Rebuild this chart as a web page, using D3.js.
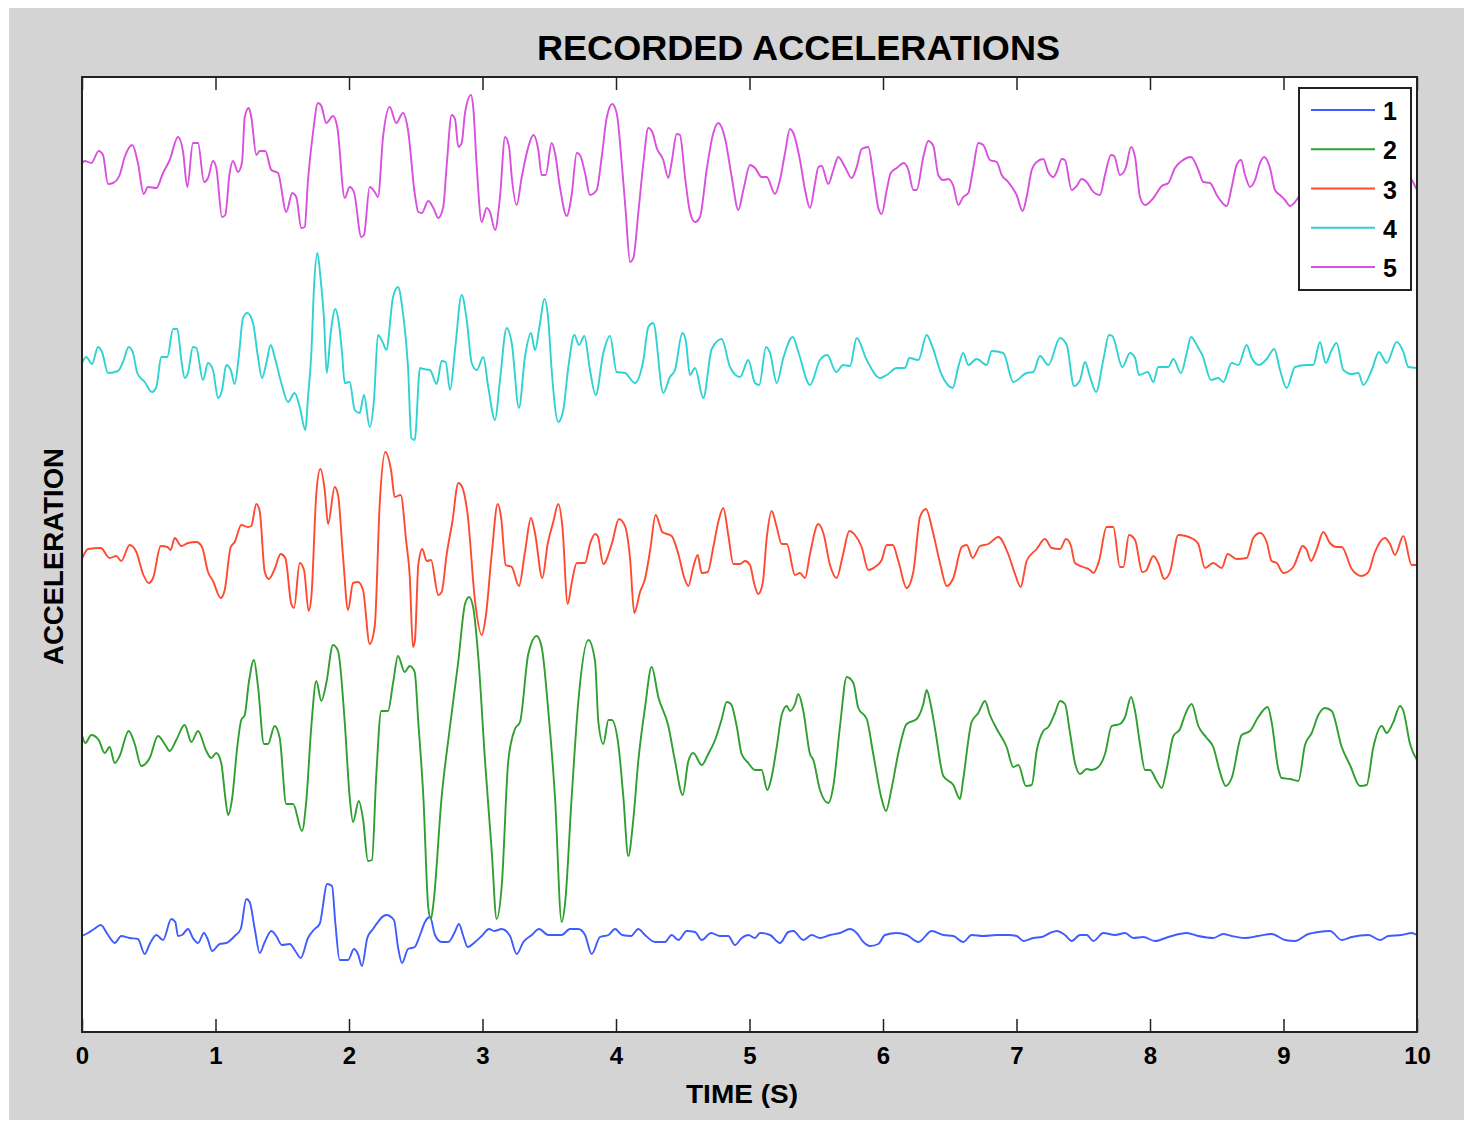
<!DOCTYPE html>
<html><head><meta charset="utf-8">
<script src="https://cdn.jsdelivr.net/npm/d3@7"></script>
<style>html,body{margin:0;padding:0;background:#fff;} svg{display:block;}</style>
</head><body>
<script>
// ---------------- DATA ----------------
const chartTitle = "RECORDED ACCELERATIONS";
const xLabel = "TIME (S)";
const yLabel = "ACCELERATION";
const seriesNames = ["1", "2", "3", "4", "5"];
const xTicks = [0, 1, 2, 3, 4, 5, 6, 7, 8, 9, 10];
const xTickLabels = ["0", "1", "2", "3", "4", "5", "6", "7", "8", "9", "10"];
// vertical offset added to each record so that they are stacked
const traceOffsets = [9.5, 28.6, 47.7, 66.8, 85.9];

// [time (s), acceleration] for each record
const accel1 = [[0,0.1],[0.045,0.4],[0.09,0.8],[0.14,1.2],[0.195,0.2],[0.245,-0.6],[0.294,0.1],[0.357,-0.1],[0.419,-0.2],[0.47,-1.7],[0.507,-0.7],[0.557,0.2],[0.607,-0.3],[0.669,1.8],[0.699,1.5],[0.719,0.1],[0.749,0.2],[0.794,0.8],[0.831,-0.1],[0.869,-0.6],[0.914,0.4],[0.944,-0.3],[0.974,-1.4],[1.031,-0.7],[1.081,-0.6],[1.144,0.1],[1.189,0.8],[1.231,3.8],[1.256,3.5],[1.294,0.8],[1.331,-1.6],[1.369,-0.5],[1.418,0.6],[1.455,0.1],[1.498,-0.8],[1.556,-0.7],[1.598,-1.4],[1.638,-2.1],[1.693,-0.1],[1.743,0.8],[1.78,1.3],[1.837,5.3],[1.873,5.1],[1.897,1.5],[1.93,-2.3],[1.993,-2.3],[2.037,-1.2],[2.067,-1.7],[2.097,-2.9],[2.137,-0.1],[2.18,0.8],[2.279,2.2],[2.337,1.7],[2.367,-1.0],[2.397,-2.6],[2.442,-1.2],[2.492,-1.0],[2.532,0.2],[2.569,1.5],[2.607,2.0],[2.644,0.2],[2.694,-0.5],[2.744,-0.5],[2.789,0.4],[2.824,1.3],[2.856,0.1],[2.889,-1.0],[2.944,-0.5],[2.994,0.1],[3.049,0.8],[3.088,0.6],[3.144,0.8],[3.206,0.1],[3.256,-1.7],[3.306,-0.5],[3.369,0.2],[3.423,0.8],[3.493,0.2],[3.593,0.2],[3.655,0.8],[3.718,0.8],[3.768,0.2],[3.818,-1.7],[3.88,0.0],[3.943,0.2],[3.993,0.8],[4.047,0.2],[4.112,0.1],[4.167,0.8],[4.217,0.2],[4.292,-0.5],[4.367,-0.5],[4.417,0.2],[4.467,-0.3],[4.53,0.6],[4.592,0.5],[4.642,-0.3],[4.712,0.4],[4.779,0.1],[4.841,0.1],[4.891,-0.8],[4.942,-0.1],[4.991,0.2],[5.041,-0.1],[5.079,0.4],[5.154,0.2],[5.228,-0.6],[5.291,0.5],[5.328,0.6],[5.403,-0.3],[5.466,0.2],[5.528,-0.1],[5.603,0.2],[5.678,0.4],[5.753,0.8],[5.803,0.4],[5.853,-0.5],[5.903,-0.9],[5.965,-0.7],[6.015,0.2],[6.103,0.4],[6.177,0.2],[6.265,-0.5],[6.365,0.6],[6.452,0.2],[6.527,0.1],[6.601,-0.5],[6.664,0.2],[6.751,0.1],[6.852,0.2],[6.938,0.2],[7.001,0.1],[7.051,-0.4],[7.126,-0.1],[7.189,0.0],[7.251,0.4],[7.301,0.6],[7.363,0.2],[7.413,-0.4],[7.476,0.2],[7.526,0.2],[7.576,-0.4],[7.65,0.4],[7.738,0.2],[7.813,0.4],[7.875,-0.1],[7.95,0.0],[8.037,-0.4],[8.137,0.0],[8.275,0.4],[8.362,0.1],[8.474,-0.1],[8.549,0.3],[8.612,0.1],[8.712,-0.1],[8.811,0.1],[8.911,0.3],[9.011,-0.3],[9.086,-0.4],[9.186,0.3],[9.261,0.5],[9.348,0.6],[9.436,-0.3],[9.511,0.0],[9.636,0.2],[9.723,-0.3],[9.785,0.1],[9.885,0.2],[9.96,0.4],[10,0.2]];

const accel2 = [[0,1.1],[0.025,0.3],[0.07,1.1],[0.125,0.6],[0.17,-0.7],[0.207,-0.1],[0.245,-1.7],[0.282,-1.0],[0.35,1.5],[0.395,0.2],[0.444,-2.0],[0.507,-1.2],[0.569,1.0],[0.624,0.1],[0.657,-0.5],[0.706,0.6],[0.769,2.1],[0.819,0.4],[0.869,1.5],[0.931,-0.5],[0.968,-1.2],[1.006,-0.7],[1.043,-1.7],[1.073,-5.1],[1.094,-6.9],[1.124,-5.3],[1.163,-0.1],[1.193,2.6],[1.219,3.1],[1.249,6.3],[1.288,8.6],[1.318,6.0],[1.363,0.2],[1.393,0.2],[1.443,2.0],[1.481,0.8],[1.53,-5.8],[1.581,-5.8],[1.648,-8.5],[1.68,-5.5],[1.718,2.0],[1.755,6.5],[1.793,4.5],[1.83,6.3],[1.88,10.1],[1.918,9.5],[1.968,2.4],[2.005,-5.1],[2.03,-7.6],[2.073,-5.5],[2.105,-7.3],[2.142,-11.5],[2.172,-11.4],[2.204,-3.0],[2.242,3.5],[2.292,3.5],[2.33,6.3],[2.367,9.0],[2.417,7.4],[2.455,8.0],[2.492,7.4],[2.519,2.4],[2.557,-5.1],[2.594,-16.2],[2.614,-17.3],[2.632,-15.8],[2.694,-5.1],[2.757,2.0],[2.819,8.5],[2.869,14.2],[2.899,14.9],[2.931,13.8],[2.969,8.8],[3.019,-1.5],[3.069,-10.5],[3.106,-17.3],[3.144,-14.0],[3.193,-1.5],[3.243,1.7],[3.281,2.4],[3.343,9.2],[3.406,11.0],[3.443,9.9],[3.493,3.5],[3.543,-5.1],[3.593,-17.6],[3.618,-15.8],[3.668,-5.1],[3.718,4.5],[3.793,10.6],[3.843,8.5],[3.868,2.4],[3.905,0.2],[3.943,2.6],[3.968,2.6],[4.017,0.2],[4.055,-5.1],[4.092,-11.0],[4.13,-7.3],[4.167,-1.5],[4.217,3.8],[4.267,7.9],[4.317,4.9],[4.392,2.0],[4.442,-1.5],[4.5,-4.9],[4.542,-1.5],[4.579,-0.7],[4.642,-1.9],[4.691,-0.8],[4.742,0.6],[4.792,2.7],[4.829,4.4],[4.861,4.2],[4.904,2.0],[4.941,-0.8],[4.991,-1.7],[5.041,-2.4],[5.091,-2.4],[5.133,-4.4],[5.159,-3.5],[5.204,-0.1],[5.241,3.1],[5.279,4.0],[5.303,3.5],[5.341,4.2],[5.366,5.2],[5.403,3.5],[5.453,-0.8],[5.478,-1.4],[5.528,-4.4],[5.59,-5.7],[5.628,-4.0],[5.678,2.0],[5.728,6.9],[5.778,6.3],[5.815,3.8],[5.878,2.7],[5.927,-0.8],[5.99,-5.3],[6.022,-6.5],[6.065,-4.2],[6.115,-0.7],[6.177,2.2],[6.252,2.7],[6.302,4.2],[6.327,5.6],[6.352,4.5],[6.39,1.7],[6.452,-3.0],[6.527,-3.9],[6.577,-5.3],[6.601,-3.3],[6.664,2.4],[6.714,3.3],[6.764,4.5],[6.801,3.1],[6.852,1.7],[6.926,-0.1],[6.976,-2.1],[7.014,-1.9],[7.071,-4.0],[7.114,-3.9],[7.151,-0.5],[7.201,1.5],[7.238,1.9],[7.288,3.3],[7.326,4.5],[7.363,4.2],[7.401,1.3],[7.438,-1.7],[7.476,-2.8],[7.526,-2.3],[7.563,-2.4],[7.613,-2.1],[7.663,-0.8],[7.713,2.0],[7.775,2.2],[7.813,2.9],[7.858,4.9],[7.888,3.5],[7.925,0.2],[7.963,-2.4],[8.0,-2.4],[8.05,-3.5],[8.088,-4.2],[8.125,-2.3],[8.175,1.0],[8.225,1.7],[8.262,3.1],[8.312,4.2],[8.362,2.0],[8.425,0.8],[8.474,-0.1],[8.524,-2.6],[8.567,-4.0],[8.612,-3.2],[8.687,1.1],[8.749,1.5],[8.811,2.9],[8.882,3.9],[8.911,2.4],[8.961,-2.3],[8.986,-3.2],[9.049,-3.3],[9.111,-3.5],[9.161,0.1],[9.211,1.3],[9.261,3.1],[9.311,3.8],[9.361,3.5],[9.436,-0.1],[9.498,-1.9],[9.573,-4.0],[9.623,-3.9],[9.673,-0.1],[9.736,2.0],[9.773,1.3],[9.823,2.4],[9.873,4.0],[9.898,3.5],[9.948,0.2],[10,-1.4]];

const accel3 = [[0,-0.4],[0.045,0.6],[0.14,0.7],[0.207,-0.3],[0.257,-0.1],[0.294,-0.6],[0.357,1.0],[0.407,0.3],[0.457,-1.9],[0.5,-2.8],[0.532,-2.3],[0.59,0.9],[0.639,0.8],[0.664,0.5],[0.694,1.7],[0.744,0.9],[0.794,1.2],[0.856,1.3],[0.899,0.8],[0.944,-1.7],[0.981,-2.6],[1.039,-4.3],[1.069,-3.5],[1.114,0.8],[1.144,1.3],[1.193,3.0],[1.243,2.8],[1.268,2.9],[1.306,5.1],[1.331,4.4],[1.369,-1.7],[1.399,-2.4],[1.443,-1.4],[1.488,0.1],[1.523,-0.3],[1.568,-4.9],[1.588,-5.3],[1.631,-0.8],[1.663,-1.5],[1.698,-5.6],[1.718,-4.2],[1.755,6.1],[1.785,8.6],[1.818,6.5],[1.843,3.1],[1.893,6.8],[1.918,6.0],[1.955,-0.1],[1.993,-5.5],[2.03,-2.8],[2.067,-2.7],[2.105,-3.5],[2.155,-8.9],[2.193,-7.1],[2.23,5.1],[2.272,10.3],[2.317,8.3],[2.342,5.8],[2.387,6.0],[2.429,1.3],[2.455,-2.1],[2.479,-9.2],[2.494,-8.5],[2.519,-1.0],[2.549,0.6],[2.582,-0.6],[2.614,-0.5],[2.669,-4.0],[2.694,-3.7],[2.732,0.1],[2.774,3.3],[2.819,7.2],[2.844,6.9],[2.889,4.0],[2.944,-4.6],[2.994,-8.0],[3.024,-6.2],[3.069,0.1],[3.114,5.1],[3.139,3.8],[3.174,-1.0],[3.219,-1.2],[3.273,-3.1],[3.318,0.3],[3.363,3.7],[3.393,2.2],[3.448,-2.3],[3.488,1.1],[3.53,3.3],[3.568,5.1],[3.598,2.9],[3.638,-4.9],[3.668,-2.8],[3.706,-0.8],[3.768,-0.8],[3.805,1.1],[3.843,2.1],[3.863,1.9],[3.905,-0.9],[3.968,1.1],[4.022,3.6],[4.067,2.9],[4.105,-0.3],[4.137,-5.8],[4.18,-3.7],[4.217,-2.4],[4.255,0.4],[4.297,4.0],[4.347,2.3],[4.417,1.9],[4.467,0.1],[4.512,-2.3],[4.542,-3.1],[4.579,-1.2],[4.612,0.0],[4.642,-1.8],[4.687,-1.7],[4.729,0.8],[4.766,3.3],[4.804,4.7],[4.841,2.0],[4.879,-0.9],[4.929,-0.9],[4.966,-0.6],[5.004,-1.0],[5.034,-2.8],[5.066,-3.9],[5.099,-2.8],[5.129,1.7],[5.166,4.4],[5.204,2.8],[5.241,1.1],[5.279,1.1],[5.341,-2.0],[5.378,-1.8],[5.416,-2.3],[5.453,0.1],[5.515,3.1],[5.553,2.2],[5.603,-1.0],[5.653,-2.3],[5.698,-0.1],[5.748,2.4],[5.79,2.0],[5.84,0.8],[5.89,-1.5],[5.94,-1.2],[5.99,-0.5],[6.028,1.0],[6.073,1.0],[6.115,-0.6],[6.177,-3.3],[6.227,-1.7],[6.277,3.8],[6.322,4.6],[6.372,2.4],[6.427,-0.8],[6.477,-3.1],[6.527,-2.3],[6.59,0.8],[6.627,1.0],[6.672,-0.3],[6.727,0.9],[6.789,1.1],[6.864,1.8],[6.938,0.1],[6.989,-1.9],[7.031,-3.2],[7.076,-0.6],[7.151,0.6],[7.213,1.6],[7.264,0.7],[7.326,0.6],[7.371,1.6],[7.406,1.0],[7.438,-0.8],[7.5,-1.2],[7.551,-1.5],[7.576,-1.8],[7.618,-0.6],[7.675,2.8],[7.725,2.8],[7.775,-1.2],[7.8,-1.2],[7.843,2.0],[7.888,1.5],[7.942,-1.7],[7.968,-1.6],[8.025,-0.1],[8.062,-0.8],[8.107,-2.4],[8.15,-1.7],[8.212,2.0],[8.324,1.6],[8.362,1.1],[8.412,-1.3],[8.474,-0.8],[8.537,-1.3],[8.582,0.1],[8.649,-0.4],[8.724,-0.3],[8.774,1.7],[8.824,2.2],[8.874,1.3],[8.911,-0.6],[8.949,-0.8],[8.999,-1.8],[9.073,-1.2],[9.111,0.0],[9.141,0.9],[9.174,0.5],[9.206,-0.6],[9.249,0.6],[9.298,2.3],[9.348,1.2],[9.398,0.8],[9.436,0.8],[9.511,-1.4],[9.586,-2.1],[9.636,-1.7],[9.685,0.3],[9.76,1.7],[9.798,1.1],[9.835,0.0],[9.898,1.9],[9.96,-1.0],[10,-1.0]];

const accel4 = [[0,0.1],[0.032,0.7],[0.075,0.0],[0.12,1.7],[0.15,1.2],[0.195,-0.9],[0.27,-0.7],[0.307,0.2],[0.35,1.7],[0.382,1.1],[0.414,-0.9],[0.47,-1.8],[0.524,-2.8],[0.557,-2.3],[0.594,0.7],[0.639,0.7],[0.682,3.5],[0.714,3.5],[0.744,0.4],[0.769,-1.4],[0.794,-0.9],[0.831,1.7],[0.856,1.6],[0.906,-1.6],[0.944,0.1],[0.981,-0.6],[1.019,-3.4],[1.049,-2.6],[1.081,-0.1],[1.114,-0.6],[1.144,-2.0],[1.174,0.7],[1.206,4.6],[1.238,5.1],[1.281,4.1],[1.318,0.7],[1.348,-1.4],[1.381,0.1],[1.413,1.9],[1.443,0.7],[1.493,-1.9],[1.543,-3.8],[1.593,-2.9],[1.631,-4.3],[1.673,-6.6],[1.693,-3.3],[1.718,1.1],[1.738,7.7],[1.763,11.1],[1.788,8.4],[1.813,4.4],[1.833,-0.9],[1.863,3.1],[1.897,5.5],[1.923,4.2],[1.948,1.1],[1.968,-1.9],[2.005,-1.8],[2.043,-4.6],[2.08,-4.9],[2.112,-3.1],[2.155,-6.3],[2.187,-3.6],[2.217,2.9],[2.255,2.1],[2.279,1.4],[2.33,6.7],[2.367,7.7],[2.404,5.1],[2.442,-0.3],[2.467,-7.4],[2.492,-7.6],[2.532,-0.4],[2.557,-0.5],[2.607,-0.6],[2.657,-2.0],[2.694,0.3],[2.724,0.2],[2.757,-2.6],[2.794,1.4],[2.844,6.9],[2.882,4.4],[2.919,0.1],[2.957,-0.6],[3.006,0.7],[3.043,-2.3],[3.094,-5.6],[3.131,-1.6],[3.181,3.6],[3.219,2.1],[3.273,-4.4],[3.318,0.7],[3.363,3.1],[3.393,1.4],[3.431,4.1],[3.463,6.5],[3.493,4.4],[3.518,-0.6],[3.568,-5.8],[3.605,-4.6],[3.643,-0.3],[3.688,2.9],[3.723,1.9],[3.763,2.8],[3.805,-0.6],[3.848,-3.1],[3.905,1.1],[3.955,2.8],[4.005,-0.8],[4.067,-0.9],[4.142,-1.9],[4.205,0.4],[4.242,3.7],[4.279,4.1],[4.354,-2.9],[4.404,-1.3],[4.442,-0.6],[4.497,3.1],[4.522,2.4],[4.554,-1.1],[4.592,-0.4],[4.654,-3.4],[4.717,1.5],[4.792,2.5],[4.854,-0.3],[4.929,-1.3],[4.991,0.4],[5.041,-1.9],[5.073,-2.1],[5.124,1.7],[5.154,1.1],[5.204,-1.9],[5.253,0.6],[5.324,2.7],[5.366,1.2],[5.453,-2.1],[5.528,0.4],[5.583,0.9],[5.648,-0.8],[5.703,-0.1],[5.753,-0.2],[5.803,2.6],[5.878,0.4],[5.978,-1.4],[6.028,-1.1],[6.103,-0.4],[6.165,-0.4],[6.197,0.6],[6.265,0.4],[6.327,2.9],[6.365,1.9],[6.44,-1.1],[6.522,-2.4],[6.564,-0.3],[6.601,1.1],[6.639,-0.1],[6.702,0.5],[6.777,-0.1],[6.814,1.3],[6.901,1.1],[6.976,-1.8],[7.076,-0.9],[7.126,-0.8],[7.176,0.8],[7.238,-0.1],[7.326,2.6],[7.376,1.9],[7.431,-2.2],[7.476,-1.6],[7.513,0.2],[7.551,-1.3],[7.596,-2.8],[7.65,0.4],[7.693,2.9],[7.718,2.8],[7.793,-0.3],[7.85,1.1],[7.888,0.6],[7.918,-1.1],[7.983,-0.8],[8.025,-1.8],[8.062,-0.3],[8.137,-0.3],[8.175,0.5],[8.232,-0.9],[8.275,1.1],[8.307,2.7],[8.362,1.6],[8.392,0.9],[8.457,-1.6],[8.512,-1.4],[8.549,-1.8],[8.612,0.1],[8.662,-0.1],[8.724,1.9],[8.762,0.6],[8.816,-0.1],[8.874,0.5],[8.931,1.5],[8.974,-0.6],[9.024,-2.4],[9.086,-0.3],[9.174,-0.1],[9.223,-0.1],[9.273,2.2],[9.316,0.1],[9.361,1.4],[9.398,2.1],[9.448,-0.6],[9.511,-1.0],[9.561,-0.9],[9.598,-2.1],[9.661,-0.6],[9.715,1.2],[9.773,0.1],[9.848,2.2],[9.898,1.2],[9.935,-0.3],[10,-0.4]];

const accel5 = [[0,1.0],[0.02,1.2],[0.07,1.0],[0.125,2.2],[0.157,1.8],[0.195,-1.1],[0.232,-1.0],[0.282,-0.2],[0.32,1.6],[0.377,2.8],[0.419,1.0],[0.462,-2.1],[0.494,-1.4],[0.557,-1.5],[0.607,0.0],[0.657,1.3],[0.719,3.6],[0.757,2.1],[0.789,-1.4],[0.831,3.0],[0.869,3.0],[0.914,-0.9],[0.944,-0.5],[0.981,1.2],[1.006,0.5],[1.049,-4.4],[1.073,-4.2],[1.106,0.0],[1.131,1.2],[1.169,0.1],[1.199,1.1],[1.219,5.6],[1.249,6.5],[1.268,5.6],[1.306,1.8],[1.331,2.2],[1.373,2.2],[1.418,0.3],[1.468,0.0],[1.53,-3.9],[1.575,-2.0],[1.605,-2.4],[1.643,-5.5],[1.668,-5.4],[1.693,-0.7],[1.73,4.0],[1.768,7.0],[1.793,6.7],[1.83,5.0],[1.88,5.7],[1.912,4.6],[1.968,-2.5],[2.005,-1.4],[2.037,-1.9],[2.092,-6.4],[2.112,-6.2],[2.155,-1.4],[2.193,-1.9],[2.217,-2.4],[2.255,3.6],[2.305,6.6],[2.354,5.0],[2.404,6.0],[2.442,4.3],[2.492,-2.0],[2.519,-3.9],[2.545,-4.0],[2.594,-2.8],[2.632,-3.5],[2.669,-4.5],[2.706,-3.4],[2.732,0.8],[2.769,5.8],[2.794,5.4],[2.819,2.6],[2.844,3.0],[2.869,6.0],[2.914,7.8],[2.931,6.5],[2.957,0.6],[2.994,-4.9],[3.031,-3.5],[3.056,-3.9],[3.094,-5.7],[3.131,-2.4],[3.169,3.6],[3.199,2.6],[3.219,-0.4],[3.256,-3.2],[3.294,-0.4],[3.343,2.6],[3.381,3.8],[3.418,2.3],[3.443,-0.2],[3.473,-0.2],[3.518,3.0],[3.543,2.0],[3.58,-1.4],[3.631,-4.3],[3.668,-2.2],[3.706,2.0],[3.73,1.8],[3.768,0.0],[3.805,-2.2],[3.855,-1.7],[3.893,1.6],[3.93,5.5],[3.972,6.9],[4.005,6.0],[4.043,1.0],[4.073,-3.9],[4.105,-8.9],[4.13,-8.5],[4.167,-4.0],[4.205,1.0],[4.242,4.5],[4.272,4.1],[4.305,2.5],[4.354,1.3],[4.392,-0.5],[4.417,1.1],[4.455,3.9],[4.479,3.8],[4.517,-0.4],[4.554,-3.9],[4.592,-4.9],[4.629,-4.4],[4.679,0.3],[4.729,4.0],[4.766,5.0],[4.816,3.5],[4.867,-0.4],[4.916,-3.7],[4.954,-1.7],[5.004,0.8],[5.041,0.5],[5.091,-0.4],[5.129,-0.4],[5.191,-2.1],[5.228,-0.7],[5.266,2.0],[5.303,4.4],[5.328,4.0],[5.378,1.3],[5.416,-1.7],[5.453,-3.5],[5.491,-1.0],[5.516,0.6],[5.541,0.7],[5.59,-1.1],[5.628,0.3],[5.665,1.6],[5.715,0.6],[5.766,-0.5],[5.803,0.6],[5.84,2.4],[5.89,2.6],[5.927,-0.2],[5.965,-3.5],[5.99,-4.1],[6.028,-1.7],[6.058,0.0],[6.103,0.5],[6.157,1.0],[6.19,0.3],[6.227,-1.7],[6.252,-1.7],[6.302,1.6],[6.339,3.2],[6.377,2.7],[6.414,-0.2],[6.452,-0.7],[6.489,-0.6],[6.527,-1.3],[6.564,-3.2],[6.601,-2.4],[6.639,-2.0],[6.676,0.5],[6.714,3.0],[6.751,2.8],[6.801,1.3],[6.852,1.1],[6.889,-0.2],[6.938,-0.9],[7.001,-2.2],[7.046,-3.8],[7.076,-2.4],[7.114,0.3],[7.151,1.1],[7.201,1.4],[7.238,0.1],[7.276,-0.4],[7.301,0.1],[7.339,1.4],[7.363,1.3],[7.413,-1.7],[7.451,-1.3],[7.488,-0.6],[7.551,-1.4],[7.563,-1.7],[7.625,-2.2],[7.663,-0.2],[7.708,1.8],[7.732,1.7],[7.775,-0.2],[7.818,0.5],[7.858,2.6],[7.888,1.6],[7.925,-2.4],[7.963,-3.2],[8.025,-2.5],[8.088,-1.3],[8.137,-1.0],[8.187,0.5],[8.238,1.2],[8.307,1.6],[8.362,0.3],[8.399,-0.9],[8.449,-1.0],[8.5,-2.2],[8.575,-3.3],[8.612,-1.4],[8.649,0.8],[8.682,1.3],[8.712,-0.2],[8.749,-1.4],[8.787,-0.7],[8.824,1.0],[8.856,1.6],[8.899,0.5],[8.936,-1.7],[8.974,-2.2],[9.011,-2.7],[9.049,-3.3],[9.124,-2.2],[9.273,0.8],[9.423,-1.7],[9.573,1.3],[9.723,-1.2],[9.873,0.5],[9.948,-0.4],[10,-1.7]];

const records = [accel1, accel2, accel3, accel4, accel5];
const seriesColors = ["#3f5cff", "#2f9f2f", "#ff4a30", "#2fd2d2", "#d94fde"];

// ---------------- LAYOUT ----------------
const W = 1464, H = 1124;
const plot = {left: 82, right: 1417, top: 77, bottom: 1032};
const fontFam = "'Liberation Sans', Arial, Helvetica, sans-serif";

const svg = d3.select("body").append("svg")
  .attr("width", W).attr("height", H)
  .style("font-family", fontFam);

svg.append("rect").attr("x", 0).attr("y", 0).attr("width", W).attr("height", H).attr("fill", "#ffffff");
svg.append("rect").attr("x", 9).attr("y", 8).attr("width", W - 9).attr("height", 1112).attr("fill", "#d4d4d4");

const x = d3.scaleLinear().domain([0, 10]).range([plot.left, plot.right]);
const y = d3.scaleLinear().domain([0, 95.5]).range([plot.bottom, plot.top]);

svg.append("rect")
  .attr("x", plot.left).attr("y", plot.top)
  .attr("width", plot.right - plot.left).attr("height", plot.bottom - plot.top)
  .attr("fill", "#ffffff");

svg.append("clipPath").attr("id", "clip").append("rect")
  .attr("x", plot.left).attr("y", plot.top)
  .attr("width", plot.right - plot.left).attr("height", plot.bottom - plot.top);

const gLines = svg.append("g").attr("clip-path", "url(#clip)");
records.forEach((rec, i) => {
  const line = d3.line()
    .x(d => x(d[0]))
    .y(d => y(d[1] + traceOffsets[i]))
    .curve(d3.curveMonotoneX);
  gLines.append("path")
    .datum(rec)
    .attr("fill", "none")
    .attr("stroke", seriesColors[i])
    .attr("stroke-width", 1.9)
    .attr("stroke-linejoin", "round")
    .attr("d", line);
});

const axB = d3.axisBottom(x).tickValues(xTicks).tickFormat((d, i) => xTickLabels[i])
  .tickSizeInner(-13).tickSizeOuter(0).tickPadding(15);
const gB = svg.append("g").attr("transform", `translate(0,${plot.bottom})`).call(axB);
gB.select(".domain").remove();
gB.selectAll(".tick line").attr("stroke", "#222").attr("stroke-width", 1.5);
gB.selectAll(".tick text").attr("fill", "#000").style("font-size", "24px").style("font-weight", "bold")
  .style("font-family", fontFam);

const axT = d3.axisTop(x).tickValues(xTicks).tickFormat("").tickSizeInner(-13).tickSizeOuter(0);
const gT = svg.append("g").attr("transform", `translate(0,${plot.top})`).call(axT);
gT.select(".domain").remove();
gT.selectAll(".tick line").attr("stroke", "#222").attr("stroke-width", 1.5);

svg.append("rect")
  .attr("x", plot.left).attr("y", plot.top)
  .attr("width", plot.right - plot.left).attr("height", plot.bottom - plot.top)
  .attr("fill", "none").attr("stroke", "#222").attr("stroke-width", 2);

svg.append("text").text(chartTitle)
  .attr("x", 798.5).attr("y", 60).attr("text-anchor", "middle")
  .attr("textLength", 523).attr("lengthAdjust", "spacingAndGlyphs")
  .style("font-size", "35px").style("font-weight", "bold").attr("fill", "#000");

svg.append("text").text(xLabel)
  .attr("x", 742).attr("y", 1103).attr("text-anchor", "middle")
  .attr("textLength", 112).attr("lengthAdjust", "spacingAndGlyphs")
  .style("font-size", "26px").style("font-weight", "bold").attr("fill", "#000");

svg.append("text").text(yLabel)
  .attr("transform", "translate(63,556.5) rotate(-90)").attr("text-anchor", "middle")
  .attr("textLength", 217).attr("lengthAdjust", "spacingAndGlyphs")
  .style("font-size", "27px").style("font-weight", "bold").attr("fill", "#000");

const lg = svg.append("g");
lg.append("rect").attr("x", 1299).attr("y", 88).attr("width", 112).attr("height", 202)
  .attr("fill", "#ffffff").attr("stroke", "#222").attr("stroke-width", 2);
const legendY = d3.scalePoint().domain(seriesNames).range([110, 267]);
seriesNames.forEach((name, i) => {
  const yy = legendY(name);
  lg.append("line").attr("x1", 1311).attr("x2", 1375).attr("y1", yy).attr("y2", yy)
    .attr("stroke", seriesColors[i]).attr("stroke-width", 2);
  lg.append("text").text(name).attr("x", 1383).attr("y", yy + 10)
    .style("font-size", "25px").style("font-weight", "bold").attr("fill", "#000");
});
</script>
</body></html>
